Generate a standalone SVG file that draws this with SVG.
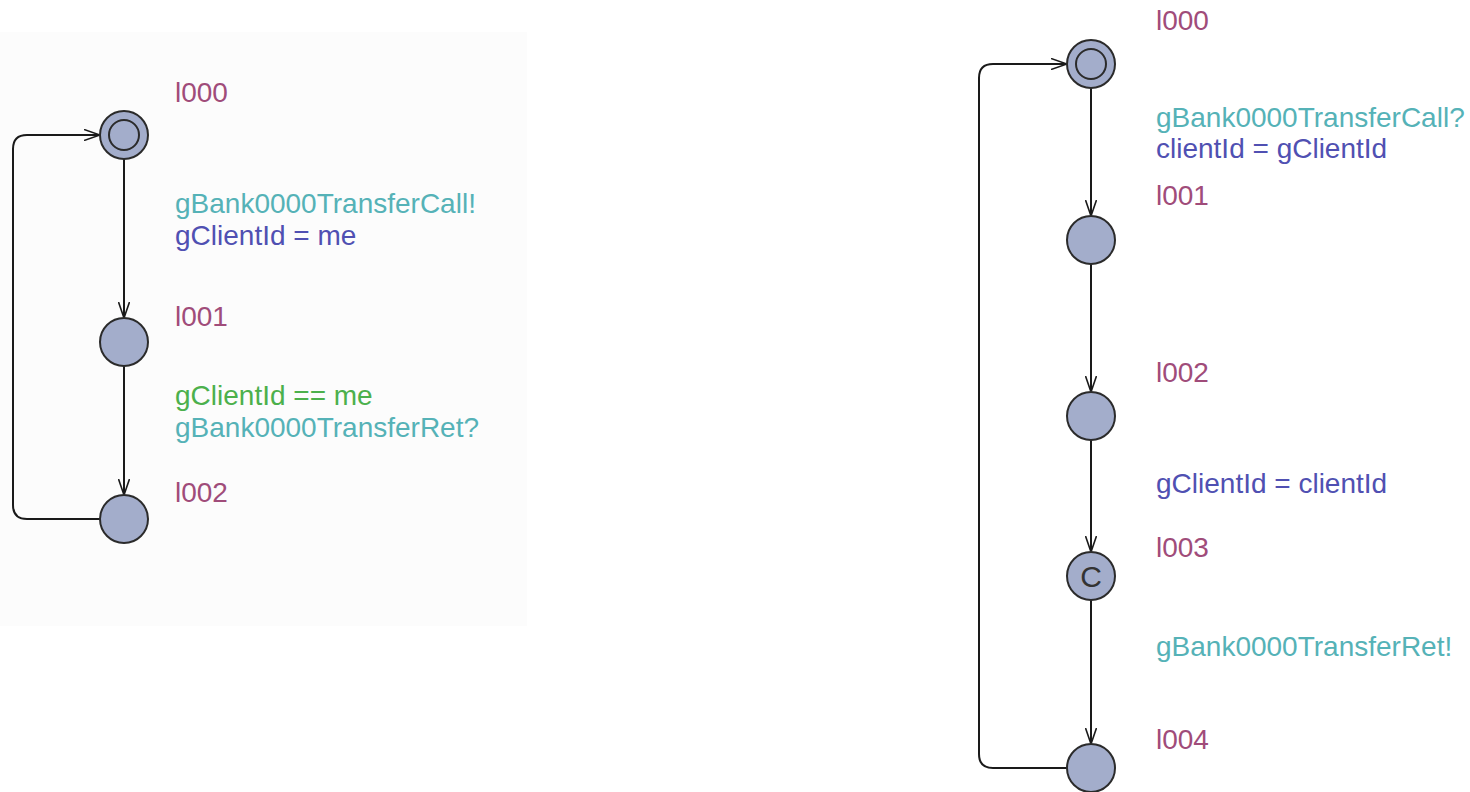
<svg xmlns="http://www.w3.org/2000/svg" width="1470" height="792" viewBox="0 0 1470 792">
  <style>
    text { font-family: "Liberation Sans", Arial, sans-serif; font-size: 28px; }
    .name { fill: #a04c7a; }
    .sync { fill: #55b2b7; }
    .assign { fill: #5050b2; }
    .guard { fill: #4cb04c; }
    .loc { fill: #a3adcb; stroke: #2b2b2b; stroke-width: 2; }
    .inner { fill: none; stroke: #2b2b2b; stroke-width: 2; }
    .edge { fill: none; stroke: #1a1a1a; stroke-width: 2; marker-end: url(#open); }
    .committed { fill: #333333; font-size: 30px; text-anchor: middle; }
  </style>
  <defs>
    <marker id="open" viewBox="0 0 16 12" refX="16" refY="6" markerWidth="16" markerHeight="12" markerUnits="userSpaceOnUse" orient="auto">
      <path d="M0,0.5 L16,6 L0,11.5" fill="none" stroke="#1a1a1a" stroke-width="1.6"/>
    </marker>
  </defs>

  <rect width="1470" height="792" fill="#ffffff"/>
  <!-- template canvas of the client process -->
  <rect x="0" y="32" width="527" height="594" fill="#fcfcfc"/>

  <g id="connectors">
    <!-- client -->
    <path class="edge" d="M124,159 L124,318"/>
    <path class="edge" d="M124,366 L124,495"/>
    <path class="edge" d="M100,519 L27,519 Q13,519 13,505 L13,149 Q13,135 27,135 L100,135"/>
    <!-- bank -->
    <path class="edge" d="M1091,88 L1091,216"/>
    <path class="edge" d="M1091,264 L1091,392"/>
    <path class="edge" d="M1091,440 L1091,552"/>
    <path class="edge" d="M1091,600 L1091,744"/>
    <path class="edge" d="M1067,768 L993,768 Q979,768 979,754 L979,78 Q979,64 993,64 L1067,64"/>
  </g>

  <g id="edge-labels">
    <text class="sync" x="175" y="213">gBank0000TransferCall!</text>
    <text class="assign" x="175" y="245">gClientId = me</text>
    <text class="guard" x="175" y="405">gClientId == me</text>
    <text class="sync" x="175" y="437">gBank0000TransferRet?</text>

    <text class="sync" x="1156" y="127">gBank0000TransferCall?</text>
    <text class="assign" x="1156" y="158">clientId = gClientId</text>
    <text class="assign" x="1156" y="493">gClientId = clientId</text>
    <text class="sync" x="1156" y="656">gBank0000TransferRet!</text>
  </g>

  <!-- client locations -->
  <g id="c_l000">
    <circle class="loc" cx="124" cy="135" r="24"/>
    <circle class="inner" cx="124" cy="135" r="15"/>
    <text class="name" x="175" y="102">l000</text>
  </g>
  <g id="c_l001">
    <circle class="loc" cx="124" cy="342" r="24"/>
    <text class="name" x="175" y="326">l001</text>
  </g>
  <g id="c_l002">
    <circle class="loc" cx="124" cy="519" r="24"/>
    <text class="name" x="175" y="502">l002</text>
  </g>

  <!-- bank locations -->
  <g id="b_l000">
    <circle class="loc" cx="1091" cy="64" r="24"/>
    <circle class="inner" cx="1091" cy="64" r="15"/>
    <text class="name" x="1156" y="30">l000</text>
  </g>
  <g id="b_l001">
    <circle class="loc" cx="1091" cy="240" r="24"/>
    <text class="name" x="1156" y="205">l001</text>
  </g>
  <g id="b_l002">
    <circle class="loc" cx="1091" cy="416" r="24"/>
    <text class="name" x="1156" y="382">l002</text>
  </g>
  <g id="b_l003">
    <circle class="loc" cx="1091" cy="576" r="24"/>
    <text class="committed" x="1091" y="587">C</text>
    <text class="name" x="1156" y="557">l003</text>
  </g>
  <g id="b_l004">
    <circle class="loc" cx="1091" cy="768" r="24"/>
    <text class="name" x="1156" y="749">l004</text>
  </g>
</svg>
